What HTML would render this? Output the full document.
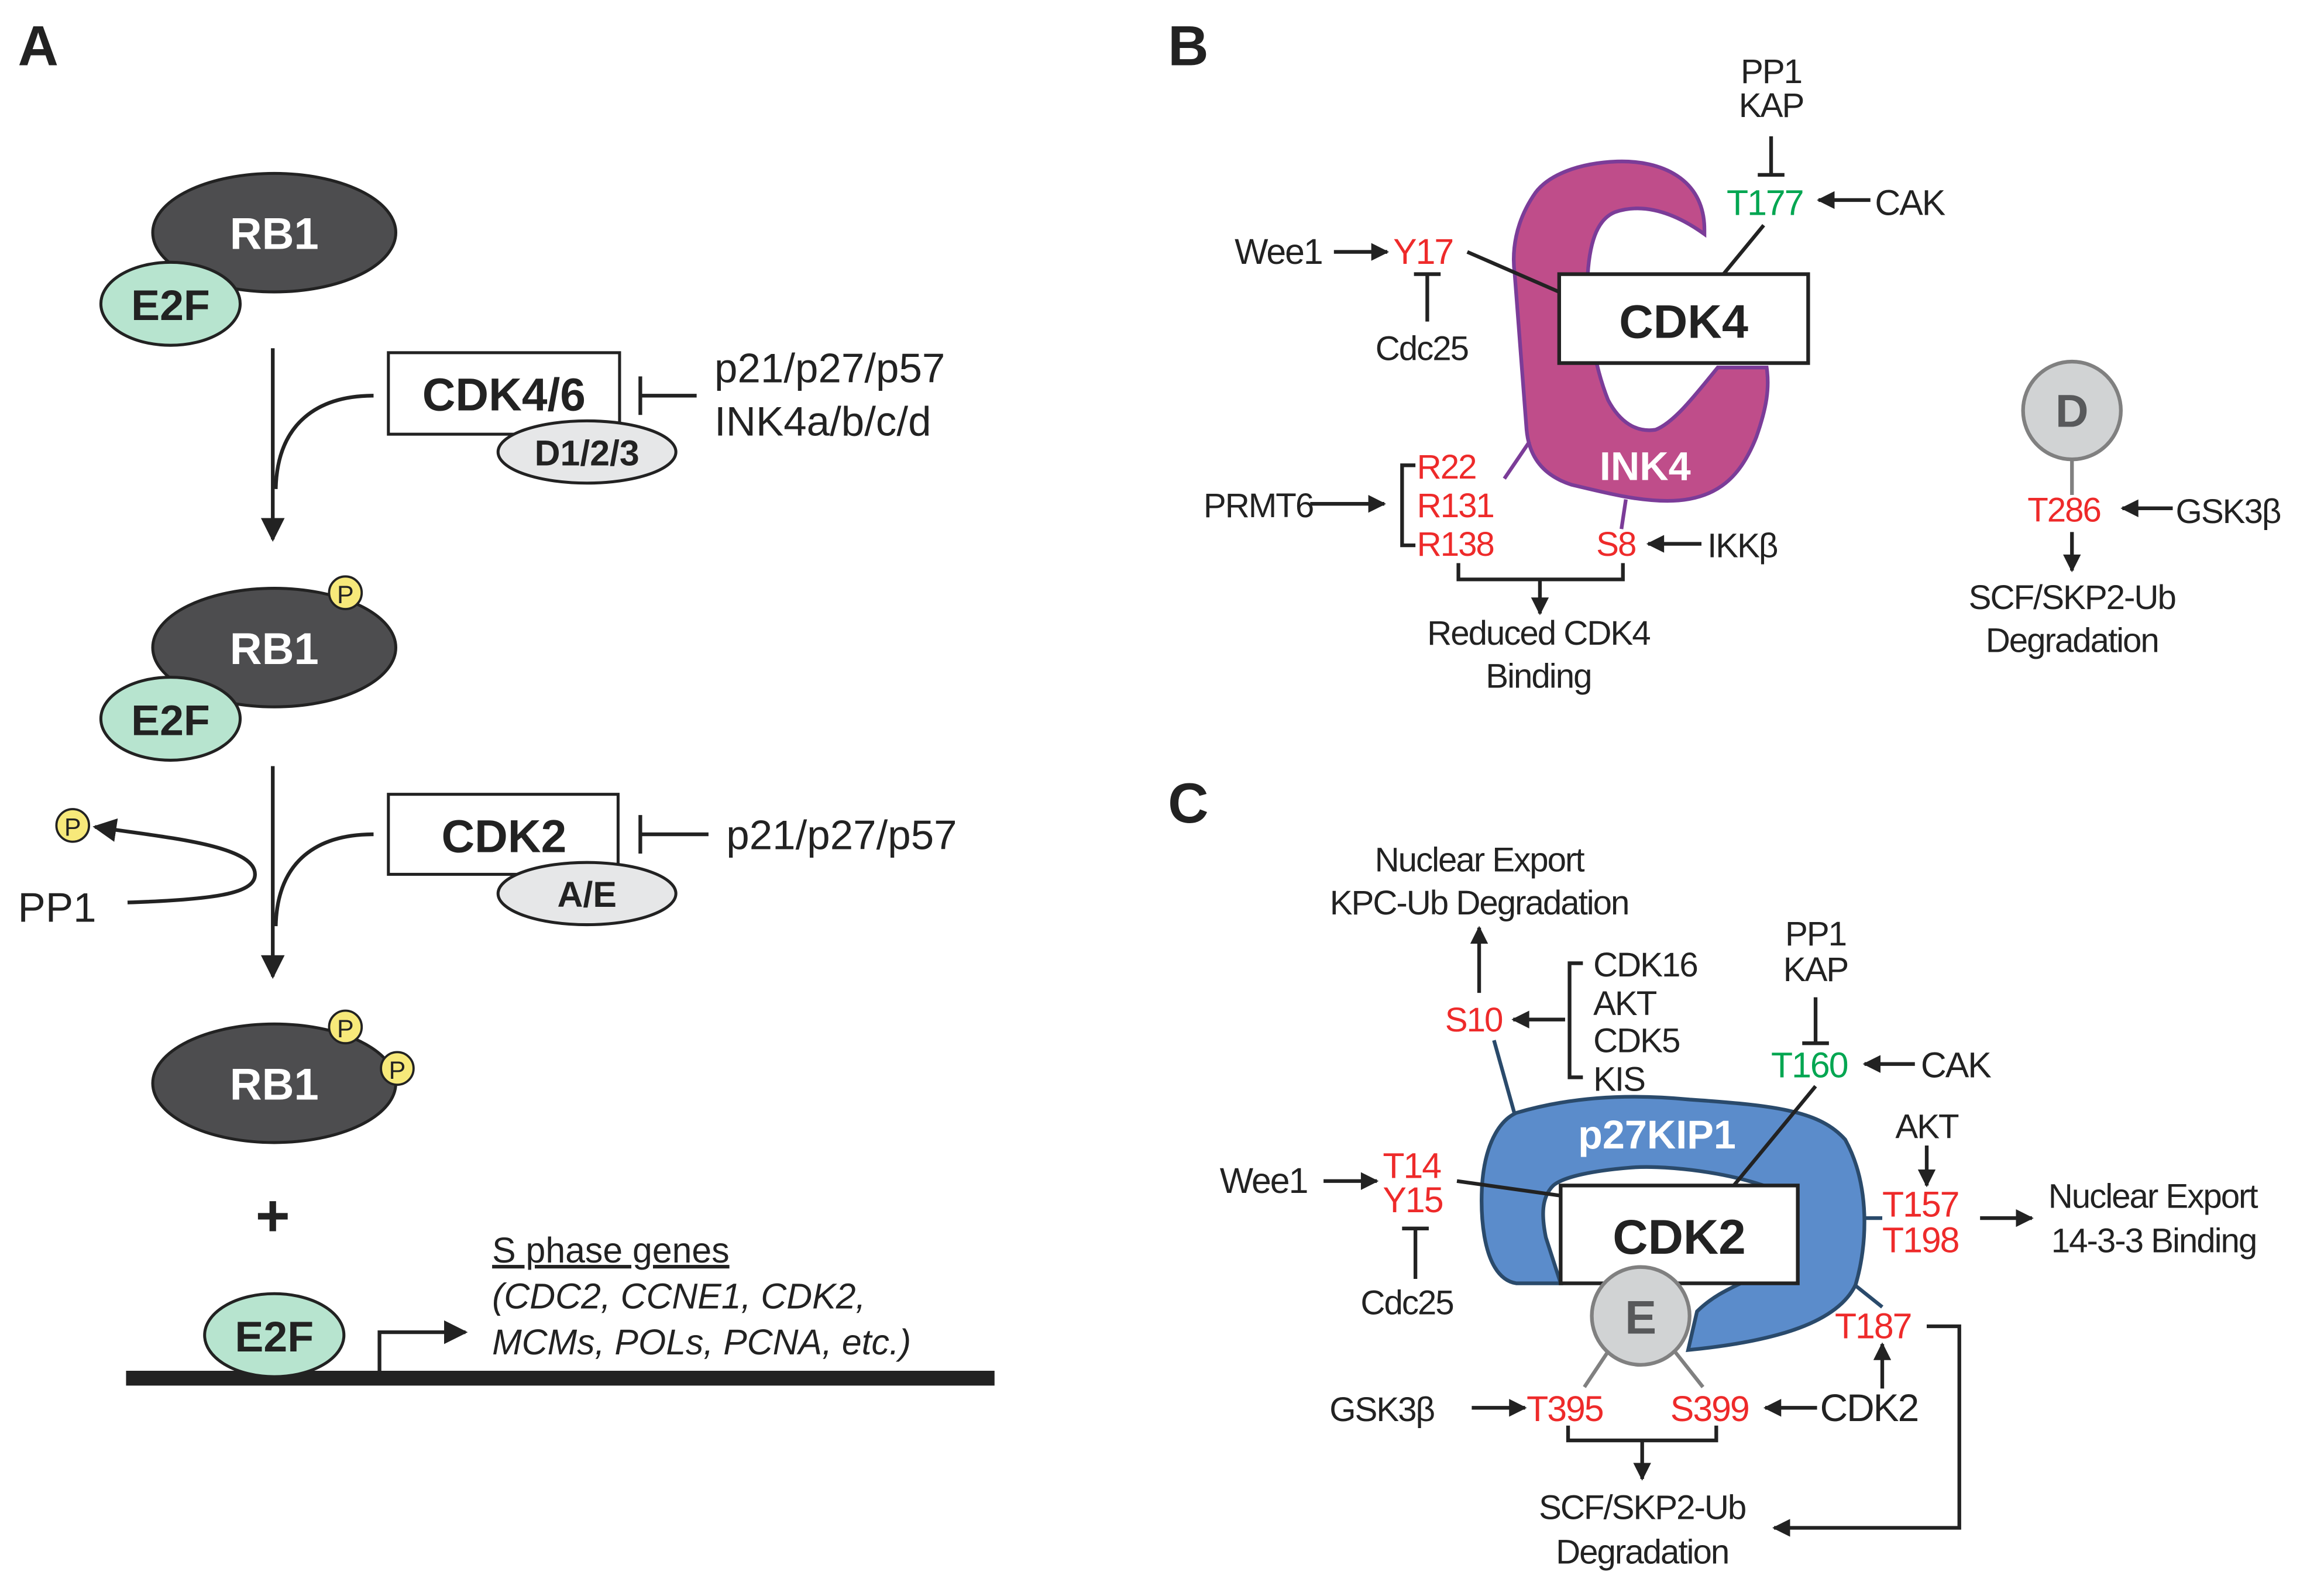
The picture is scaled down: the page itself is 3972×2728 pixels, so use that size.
<!DOCTYPE html>
<html><head><meta charset="utf-8">
<style>html,body{margin:0;padding:0;background:#fff}svg{display:block}
text{font-family:"Liberation Sans",Arial,sans-serif;fill:#222}
.r{fill:#ee2a2a}.g{fill:#00a651}.b{font-weight:bold}.w{fill:#fff}
.n{letter-spacing:-0.8px}</style></head>
<body>
<svg width="3972" height="2728" viewBox="0 0 1568 1077" xmlns="http://www.w3.org/2000/svg">
<defs>
<marker id="a" viewBox="0 0 10 10" refX="9" refY="5" markerWidth="13" markerHeight="12" orient="auto-start-reverse" markerUnits="userSpaceOnUse"><path d="M0,0 L10,5 L0,10 Z" fill="#222"/></marker>
<marker id="ab" viewBox="0 0 10 10" refX="9" refY="5" markerWidth="16" markerHeight="16" orient="auto" markerUnits="userSpaceOnUse"><path d="M0,0 L10,5 L0,10 Z" fill="#222"/></marker>
</defs>
<text x="12" y="44" font-size="38" class="b">A</text>
<ellipse cx="185" cy="157" rx="82" ry="40" fill="#4d4d4f" stroke="#222" stroke-width="2"/>
<text x="185" y="168" font-size="30" class="b w" text-anchor="middle">RB1</text>
<ellipse cx="115" cy="205" rx="47" ry="28" fill="#b7e4cf" stroke="#222" stroke-width="2"/>
<text x="115" y="216" font-size="29" class="b" text-anchor="middle">E2F</text>
<g stroke="#222" fill="none" stroke-width="2.5">
<line x1="184" y1="235" x2="184" y2="364" marker-end="url(#ab)"/>
<path d="M252,267 C215,267 187,285 186,330"/>
<line x1="432" y1="267" x2="470" y2="267"/><line x1="432" y1="254" x2="432" y2="280"/>
<line x1="184" y1="517" x2="184" y2="659" marker-end="url(#ab)"/>
<path d="M252,563 C215,563 187,580 186,625"/>
<line x1="432" y1="563" x2="478" y2="563"/><line x1="432" y1="550" x2="432" y2="576"/>
<path d="M86,609 C150,607 172,602 172,590 C172,570 110,565 64,558" marker-end="url(#ab)"/>
</g>
<rect x="262" y="238" width="156" height="55" fill="#fff" stroke="#222" stroke-width="2"/>
<text x="340" y="277" font-size="31" class="b" text-anchor="middle">CDK4/6</text>
<ellipse cx="396" cy="305" rx="60" ry="21" fill="#e6e7e8" stroke="#222" stroke-width="2"/>
<text x="396" y="314" font-size="24" class="b" text-anchor="middle">D1/2/3</text>
<text x="482" y="258" font-size="28">p21/p27/p57</text>
<text x="482" y="294" font-size="28">INK4a/b/c/d</text>
<ellipse cx="185" cy="437" rx="82" ry="40" fill="#4d4d4f" stroke="#222" stroke-width="2"/>
<text x="185" y="448" font-size="30" class="b w" text-anchor="middle">RB1</text>
<ellipse cx="115" cy="485" rx="47" ry="28" fill="#b7e4cf" stroke="#222" stroke-width="2"/>
<text x="115" y="496" font-size="29" class="b" text-anchor="middle">E2F</text>
<circle cx="233" cy="400" r="11" fill="#f7e97a" stroke="#222" stroke-width="1.5"/><text x="233" y="407" font-size="17" text-anchor="middle">P</text>
<rect x="262" y="536" width="155" height="54" fill="#fff" stroke="#222" stroke-width="2"/>
<text x="340" y="575" font-size="31" class="b" text-anchor="middle">CDK2</text>
<ellipse cx="396" cy="603" rx="60" ry="21" fill="#e6e7e8" stroke="#222" stroke-width="2"/>
<text x="396" y="612" font-size="24" class="b" text-anchor="middle">A/E</text>
<text x="490" y="573" font-size="28">p21/p27/p57</text>
<circle cx="49" cy="557" r="11" fill="#f7e97a" stroke="#222" stroke-width="1.5"/><text x="49" y="564" font-size="17" text-anchor="middle">P</text>
<text x="12" y="622" font-size="28">PP1</text>
<ellipse cx="185" cy="731" rx="82" ry="40" fill="#4d4d4f" stroke="#222" stroke-width="2"/>
<text x="185" y="742" font-size="30" class="b w" text-anchor="middle">RB1</text>
<circle cx="233" cy="693" r="11" fill="#f7e97a" stroke="#222" stroke-width="1.5"/><text x="233" y="700" font-size="17" text-anchor="middle">P</text>
<circle cx="268" cy="721" r="11" fill="#f7e97a" stroke="#222" stroke-width="1.5"/><text x="268" y="728" font-size="17" text-anchor="middle">P</text>
<text x="184" y="834" font-size="40" class="b" text-anchor="middle">+</text>
<line x1="85" y1="930" x2="671" y2="930" stroke="#222" stroke-width="10"/>
<ellipse cx="185" cy="901" rx="47" ry="28" fill="#b7e4cf" stroke="#222" stroke-width="2"/>
<text x="185" y="912" font-size="29" class="b" text-anchor="middle">E2F</text>
<path d="M256,926 V899 H314" fill="none" stroke="#222" stroke-width="2.5" marker-end="url(#ab)"/>
<text x="332" y="852" font-size="24" text-decoration="underline">S phase genes</text>
<text x="332" y="883" font-size="24" font-style="italic">(CDC2, CCNE1, CDK2,</text>
<text x="332" y="914" font-size="24" font-style="italic">MCMs, POLs, PCNA, etc.)</text>

<!-- Panel B -->
<text x="788" y="44" font-size="38" class="b">B</text>
<path d="M1150,155 C1150,120 1120,108 1091,109 C1065,110 1045,118 1036,130 C1022,150 1020,170 1022,185 L1030,290 C1032,312 1045,322 1060,327 C1085,333 1105,338 1125,338 C1160,338 1175,320 1185,295 C1192,275 1194,262 1192,248 L1159,248 C1145,265 1130,285 1117,290 C1104,292 1093,285 1085,270 C1075,245 1070,210 1071,190 C1072,165 1077,148 1090,143 C1105,138 1125,140 1150,158 Z" fill="#bf4d8a" stroke="#7b3c98" stroke-width="2.5"/>
<g stroke="#222" fill="none" stroke-width="2.5">
<line x1="990" y1="170" x2="1052" y2="197"/>
<line x1="1190" y1="152" x2="1162" y2="186"/>
<line x1="900" y1="170" x2="936" y2="170" marker-end="url(#a)"/>
<line x1="954" y1="185" x2="972" y2="185"/><line x1="963" y1="185" x2="963" y2="217"/>
<line x1="1195" y1="92" x2="1195" y2="118"/><line x1="1186" y1="118" x2="1204" y2="118"/>
<line x1="1262" y1="135" x2="1227" y2="135" marker-end="url(#a)"/>
<line x1="884" y1="340" x2="934" y2="340" marker-end="url(#a)"/>
<path d="M955,314 H946 V368 H955"/>
<line x1="1148" y1="367" x2="1112" y2="367" marker-end="url(#a)"/>
<path d="M984,380 V391 H1095 V380"/>
<line x1="1039" y1="391" x2="1039" y2="414" marker-end="url(#a)"/>
</g>
<line x1="1032" y1="298" x2="1015" y2="323" stroke="#7b3c98" stroke-width="2.5"/>
<line x1="1097" y1="337" x2="1094" y2="357" stroke="#7b3c98" stroke-width="2.5"/>
<rect x="1052" y="185" width="168" height="60" fill="#fff" stroke="#222" stroke-width="2.5"/>
<text x="1136" y="228" font-size="32" class="b" text-anchor="middle">CDK4</text>
<text x="1110" y="324" font-size="27" class="b w" text-anchor="middle">INK4</text>
<text x="1195" y="56" font-size="23" class="n" text-anchor="middle">PP1</text>
<text x="1195" y="79" font-size="23" class="n" text-anchor="middle">KAP</text>
<text x="1165" y="145" font-size="24" class="g n">T177</text>
<text x="1265" y="145" font-size="24" class="n">CAK</text>
<text x="833" y="178" font-size="24" class="n">Wee1</text>
<text x="940" y="178" font-size="24" class="r n">Y17</text>
<text x="928" y="243" font-size="23" class="n">Cdc25</text>
<text x="812" y="349" font-size="23" class="n">PRMT6</text>
<text x="956" y="323" font-size="23" class="r n">R22</text>
<text x="956" y="349" font-size="23" class="r n">R131</text>
<text x="956" y="375" font-size="23" class="r n">R138</text>
<text x="1077" y="375" font-size="23" class="r n">S8</text>
<text x="1152" y="376" font-size="23" class="n">IKKβ</text>
<text x="1038" y="435" font-size="23" class="n" text-anchor="middle">Reduced CDK4</text>
<text x="1038" y="464" font-size="23" class="n" text-anchor="middle">Binding</text>
<line x1="1398" y1="308" x2="1398" y2="334" stroke="#808080" stroke-width="2.5"/>
<circle cx="1398" cy="277" r="33" fill="#d1d3d4" stroke="#808080" stroke-width="2.5"/>
<text x="1398" y="288" font-size="31" class="b" style="fill:#58595b" text-anchor="middle">D</text>
<text x="1368" y="352" font-size="23" class="r n">T286</text>
<text x="1468" y="353" font-size="23" class="n">GSK3β</text>
<g stroke="#222" fill="none" stroke-width="2.5">
<line x1="1466" y1="343" x2="1432" y2="343" marker-end="url(#a)"/>
<line x1="1398" y1="359" x2="1398" y2="385" marker-end="url(#a)"/>
</g>
<text x="1398" y="411" font-size="23" class="n" text-anchor="middle">SCF/SKP2-Ub</text>
<text x="1398" y="440" font-size="23" class="n" text-anchor="middle">Degradation</text>

<!-- Panel C -->
<text x="788" y="555" font-size="38" class="b">C</text>
<text x="998" y="588" font-size="23" class="n" text-anchor="middle">Nuclear Export</text>
<text x="998" y="617" font-size="23" class="n" text-anchor="middle">KPC-Ub Degradation</text>
<line x1="1008" y1="702" x2="1022" y2="752" stroke="#2a4a6b" stroke-width="2.5"/>
<line x1="1257" y1="822" x2="1270" y2="822" stroke="#2a4a6b" stroke-width="2.5"/>
<line x1="1250" y1="866" x2="1270" y2="882" stroke="#2a4a6b" stroke-width="2.5"/>
<path d="M1023,751 C1060,740 1100,738 1140,742 C1200,746 1228,750 1245,769 C1262,800 1260,840 1252,867 C1240,892 1200,905 1139,911 L1145,885 C1160,870 1178,866 1185,860 L1190,800 C1160,790 1120,786 1099,788 C1075,790 1055,794 1048,800 C1040,808 1040,820 1043,835 L1053,866 L1023,866 C998,862 998,810 1001,790 C1004,770 1012,756 1023,751 Z" fill="#5b8ccb" stroke="#2a4a6b" stroke-width="2.5"/>
<g stroke="#222" fill="none" stroke-width="2.5">
<line x1="983" y1="797" x2="1054" y2="807"/>
<line x1="1225" y1="733" x2="1169" y2="801"/>
</g>
<rect x="1053" y="800" width="160" height="66" fill="#fff" stroke="#222" stroke-width="2.5"/>
<text x="1133" y="846" font-size="33" class="b" text-anchor="middle">CDK2</text>
<text x="1118" y="775" font-size="27" class="b w" text-anchor="middle">p27KIP1</text>
<g stroke="#808080" stroke-width="2.5"><line x1="1085" y1="912" x2="1069" y2="936"/><line x1="1130" y1="912" x2="1149" y2="936"/></g>
<ellipse cx="1107" cy="888" rx="33" ry="33" fill="#d1d3d4" stroke="#808080" stroke-width="2.5"/>
<text x="1107" y="900" font-size="32" class="b" style="fill:#58595b" text-anchor="middle">E</text>
<g stroke="#222" fill="none" stroke-width="2.5">
<line x1="998" y1="670" x2="998" y2="626" marker-end="url(#a)"/>
<line x1="1056" y1="688" x2="1021" y2="688" marker-end="url(#a)"/>
<path d="M1068,650 H1059 V727 H1068"/>
<line x1="1225" y1="673" x2="1225" y2="704"/><line x1="1216" y1="704" x2="1234" y2="704"/>
<line x1="1292" y1="718" x2="1258" y2="718" marker-end="url(#a)"/>
<line x1="893" y1="797" x2="929" y2="797" marker-end="url(#a)"/>
<line x1="946" y1="829" x2="964" y2="829"/><line x1="955" y1="829" x2="955" y2="863"/>
<line x1="1300" y1="773" x2="1300" y2="800" marker-end="url(#a)"/>
<line x1="1336" y1="822" x2="1371" y2="822" marker-end="url(#a)"/>
<path d="M1300,895 H1322 V1031 H1197" marker-end="url(#a)"/>
<line x1="1270" y1="937" x2="1270" y2="907" marker-end="url(#a)"/>
<line x1="1226" y1="950" x2="1191" y2="950" marker-end="url(#a)"/>
<line x1="993" y1="950" x2="1029" y2="950" marker-end="url(#a)"/>
<path d="M1058,962 V972 H1158 V962"/>
<line x1="1108" y1="972" x2="1108" y2="998" marker-end="url(#a)"/>
</g>
<text x="975" y="696" font-size="23" class="r n">S10</text>
<text x="1075" y="659" font-size="23" class="n">CDK16</text>
<text x="1075" y="685" font-size="23" class="n">AKT</text>
<text x="1075" y="710" font-size="23" class="n">CDK5</text>
<text x="1075" y="736" font-size="23" class="n">KIS</text>
<text x="1225" y="638" font-size="23" class="n" text-anchor="middle">PP1</text>
<text x="1225" y="662" font-size="23" class="n" text-anchor="middle">KAP</text>
<text x="1195" y="727" font-size="24" class="g n">T160</text>
<text x="1296" y="727" font-size="24" class="n">CAK</text>
<text x="823" y="805" font-size="24" class="n">Wee1</text>
<text x="933" y="795" font-size="24" class="r n">T14</text>
<text x="933" y="818" font-size="24" class="r n">Y15</text>
<text x="918" y="887" font-size="23" class="n">Cdc25</text>
<text x="1300" y="768" font-size="23" class="n" text-anchor="middle">AKT</text>
<text x="1270" y="821" font-size="24" class="r n">T157</text>
<text x="1270" y="845" font-size="24" class="r n">T198</text>
<text x="1382" y="815" font-size="23" class="n">Nuclear Export</text>
<text x="1384" y="845" font-size="23" class="n">14-3-3 Binding</text>
<text x="1238" y="903" font-size="24" class="r n">T187</text>
<text x="1228" y="959" font-size="26" class="n">CDK2</text>
<text x="1127" y="959" font-size="24" class="r n">S399</text>
<text x="1030" y="959" font-size="24" class="r n">T395</text>
<text x="897" y="959" font-size="23" class="n">GSK3β</text>
<text x="1108" y="1025" font-size="23" class="n" text-anchor="middle">SCF/SKP2-Ub</text>
<text x="1108" y="1055" font-size="23" class="n" text-anchor="middle">Degradation</text>
</svg>
</body></html>
